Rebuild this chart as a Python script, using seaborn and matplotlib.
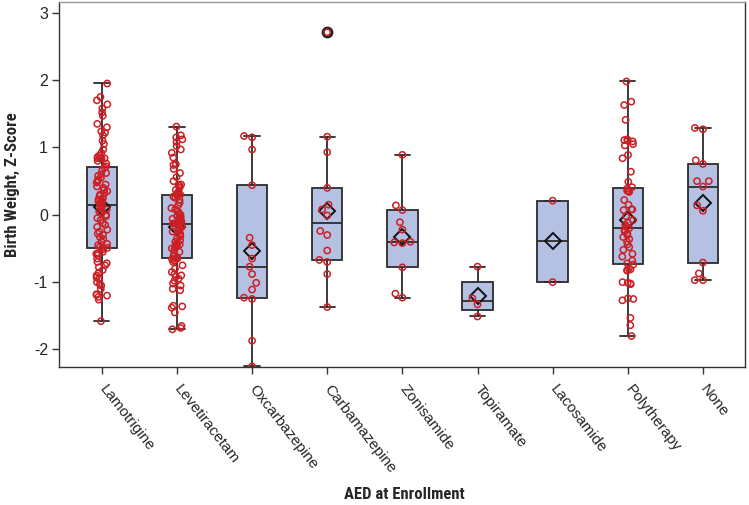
import numpy as np
import pandas as pd
import matplotlib
matplotlib.use("Agg")
import matplotlib as mpl
import matplotlib.pyplot as plt
import seaborn as sns

# ---------------- data ----------------
categories = ["Lamotrigine", "Levetiracetam", "Oxcarbazepine", "Carbamazepine",
              "Zonisamide", "Topiramate", "Lacosamide", "Polytherapy", "None"]

lamotrigine = [1.95, 1.75, 1.70, 1.64, 1.58, 1.52, 1.47, 1.35, 1.30, 1.24, 1.22, 1.18,
               1.10, 1.05, 0.97, 0.92, 0.88, 0.86, 0.84, 0.84, 0.84, 0.84, 0.80, 0.76, 0.72,
               0.70, 0.66, 0.62, 0.60, 0.58, 0.55, 0.52, 0.50, 0.48, 0.45, 0.42, 0.40, 0.37,
               0.35, 0.32, 0.30, 0.28, 0.25, 0.23, 0.22, 0.20, 0.19, 0.18, 0.17, 0.16,
               0.14, 0.12, 0.10, 0.08, 0.05, 0.02, 0.00, -0.02, -0.05, -0.08, -0.12, -0.15,
               -0.18, -0.22, -0.25, -0.28, -0.30, -0.33, -0.36, -0.40, -0.43, -0.45, -0.47,
               -0.49, -0.49,
               -0.51, -0.55, -0.57, -0.58, -0.60, -0.65, -0.70, -0.72, -0.75, -0.78, -0.82,
               -0.86, -0.90, -0.93, -0.95, -1.00, -1.03, -1.05, -1.10, -1.18, -1.19, -1.20,
               -1.22, -1.26, -1.58]

levetiracetam = [1.31, 1.18, 1.15, 1.12, 1.08, 1.02, 0.97, 0.92, 0.85, 0.75, 0.74, 0.68,
                 0.62, 0.56, 0.50, 0.45, 0.44, 0.43, 0.40, 0.37, 0.34, 0.32, 0.31, 0.30,
                 0.28, 0.27, 0.25, 0.22, 0.18, 0.14, 0.10, 0.08, 0.05, 0.02, 0.00, -0.02,
                 -0.04, -0.05, -0.06, -0.08, -0.09, -0.10, -0.11, -0.12, -0.12, -0.13, -0.13,
                 -0.13,
                 -0.15, -0.16, -0.18, -0.20, -0.22, -0.25, -0.27, -0.28, -0.30, -0.32, -0.35,
                 -0.38, -0.40, -0.42, -0.44, -0.45, -0.47, -0.48, -0.50, -0.52, -0.55, -0.58,
                 -0.62, -0.63,
                 -0.65, -0.65, -0.66, -0.68, -0.70, -0.75, -0.80, -0.85, -0.88, -0.90, -0.92,
                 -0.95, -0.98, -1.02, -1.05, -1.10, -1.12, -1.35, -1.36, -1.38, -1.45, -1.65,
                 -1.68, -1.70]

oxcarbazepine = [1.17, 1.15, 0.97, 0.44, -0.34, -0.45, -0.65, -0.77, -0.88, -1.01, -1.11,
                 -1.23, -1.25, -1.87, -2.25]

carbamazepine = [2.71, 1.16, 0.93, 0.40, 0.15, 0.08, -0.01, -0.24, -0.30, -0.53, -0.67,
                 -0.70, -0.88, -1.37]

zonisamide = [0.89, 0.14, 0.07, -0.11, -0.22, -0.40, -0.41, -0.42, -0.78, -1.17, -1.23]

topiramate = [-0.77, -1.24, -1.33, -1.51]

lacosamide = [0.21, -1.00]

polytherapy = [1.98, 1.68, 1.63, 1.41, 1.12, 1.11, 1.10, 1.09, 1.05, 1.03, 0.89, 0.84,
               0.64, 0.49, 0.41,
               0.39, 0.36, 0.35, 0.35, 0.34, 0.22, 0.15, 0.08, 0.08, 0.07, -0.02, -0.08,
               -0.12, -0.15, -0.18,
               -0.20, -0.22, -0.25, -0.28, -0.30, -0.33, -0.36, -0.40, -0.44, -0.48, -0.52,
               -0.58, -0.62, -0.68, -0.72,
               -0.74, -0.80, -0.81, -0.82, -0.83, -1.00, -1.01, -1.02, -1.03, -1.24, -1.25,
               -1.27, -1.53, -1.64, -1.80]

none_group = [1.29, 1.27, 0.81, 0.755, 0.50, 0.50, 0.42, 0.14, 0.06, -0.71, -0.87, -0.97,
              -0.97]

y_ticks = [-2, -1, 0, 1, 2, 3]

series = [lamotrigine, levetiracetam, oxcarbazepine, carbamazepine, zonisamide,
          topiramate, lacosamide, polytherapy, none_group]
dense_groups = ["Lamotrigine", "Levetiracetam", "Polytherapy"]

df = pd.DataFrame({
    "AED": np.concatenate([[c] * len(v) for c, v in zip(categories, series)]),
    "z": np.concatenate([np.asarray(v, float) for v in series]),
})

# ---- box statistics with SAS default quantile definition (def. 5) ----
_orig_stats = mpl.cbook.boxplot_stats


def _sas_stats(X, whis=1.5, bootstrap=None, labels=None, autorange=False):
    out = _orig_stats(X, whis=whis, bootstrap=bootstrap, labels=labels,
                      autorange=autorange)
    for st, x in zip(out, X):
        x = np.asarray(x, float)
        q1, med, q3 = np.percentile(x, [25, 50, 75], method="averaged_inverted_cdf")
        iqr = q3 - q1
        lo, hi = q1 - whis * iqr, q3 + whis * iqr
        st.update(q1=q1, med=med, q3=q3, iqr=iqr, mean=x.mean(),
                  whislo=x[x >= lo].min(), whishi=x[x <= hi].max(),
                  fliers=x[(x < lo) | (x > hi)])
    return out


mpl.cbook.boxplot_stats = _sas_stats

# ---------------- plot ----------------
sns.set_theme(style="white")
plt.rcParams["font.family"] = ["Liberation Sans", "DejaVu Sans"]

fig = plt.figure(figsize=(7.49, 5.05), dpi=100)
ax = fig.add_axes([59 / 749, 1 - 367 / 505, (745 - 59) / 749, (367 - 2) / 505])

edge = "#2b2b2b"
red = "#cc1f24"

sns.boxplot(data=df, x="AED", y="z", order=categories, ax=ax,
            color="#b5c1e3", saturation=1, width=0.405, linecolor=edge,
            linewidth=1.3, whis=1.5,
            showmeans=True,
            meanprops=dict(marker="D", markerfacecolor="none", markeredgecolor="#111111",
                           markeredgewidth=1.4, markersize=8.5),
            flierprops=dict(marker="o", markerfacecolor="none", markeredgecolor="#222222",
                            markeredgewidth=2.0, markersize=6.5))

n_before = len(ax.collections)
dense = df[df["AED"].isin(dense_groups)]
sparse = df[~df["AED"].isin(dense_groups)]
sns.stripplot(data=dense, x="AED", y="z", order=categories, ax=ax, jitter=0.075,
              color=red, size=4.5, linewidth=1.1, edgecolor=red, zorder=3)
sns.swarmplot(data=sparse, x="AED", y="z", order=categories, ax=ax,
              color=red, size=4.5, linewidth=1.1, edgecolor=red, zorder=3)
for coll in ax.collections[n_before:]:
    coll.set_facecolor("none")
    coll.set_edgecolor(red)
    coll.set_linewidth(1.1)

ax.set_xlim(-0.57, 8.56)
ax.set_ylim(-2.26, 3.16)
ax.set_yticks(y_ticks)
ax.set_yticklabels([str(t) for t in y_ticks], fontsize=11.5)
ax.set_xticks(range(len(categories)))
ax.set_xticklabels(categories, rotation=-52, ha="left", va="center",
                   rotation_mode="anchor", fontsize=11)
ax.tick_params(axis="both", which="both", direction="out", length=5, width=1,
               color="#333333", left=True, bottom=True, pad=3)
ax.tick_params(axis="x", pad=9)

for s in ax.spines.values():
    s.set_color("#333333")
    s.set_linewidth(1.0)
ax.spines["top"].set_color("#999999")

lab_font = dict(family=["Roboto Condensed", "Liberation Sans Narrow",
                        "DejaVu Sans Condensed", "Liberation Sans"],
                fontweight="bold", fontsize=12)
ax.set_xlabel("AED at Enrollment", **lab_font)
ax.set_ylabel("Birth Weight, Z-Score", **lab_font)
ax.xaxis.set_label_coords(0.504, -0.33)
ax.yaxis.set_label_coords(-0.057, 0.5)

fig.savefig("out.png", dpi=100, facecolor="white")
